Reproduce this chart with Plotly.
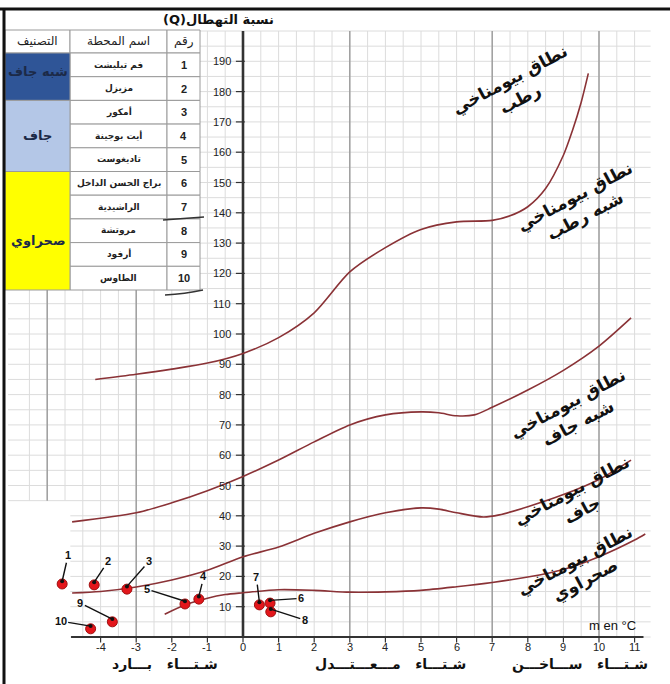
import plotly.graph_objects as go

# ---------------- data ----------------
station_no = [1, 2, 3, 4, 5, 6, 7, 8, 9, 10]
station_names = ["فم تيليشت", "مزيزل", "أمكور", "أيت بوجينة", "تاديغوست",
                 "براج الحسن الداخل", "الراشيدية", "مروتشة", "أرفود", "الطاوس"]
class_labels = ["شبه جاف", "جاف", "صحراوي"]
class_row_counts = [2, 3, 5]
table_headers = ["التصنيف", "اسم المحطة", "رقم"]

station_m = [-5.08, -4.18, -3.26, -1.24, -1.63, 0.76, 0.46, 0.78, -3.67, -4.28]
station_q = [17.5, 17.2, 15.8, 12.5, 10.9, 11.2, 10.6, 8.3, 5.0, 2.7]

x_ticks = list(range(-4, 12))
y_ticks = list(range(10, 200, 10))

# boundary humid / sub-humid
b1_x = [-4.15, -3, -2, -1, 0, 1, 2, 3, 4, 5, 6, 7, 7.5, 8, 8.5, 9, 9.25, 9.5, 9.7]
b1_y = [85, 86.7, 88.4, 90.4, 93.6, 98.8, 107, 120.5, 128.5, 134.5, 137, 137.5, 139, 142, 148, 159, 167, 176.5, 186]
# boundary sub-humid / semi-arid
b2_x = [-4.8, -3, -2, -1, 0, 1, 2, 3, 4, 5, 5.5, 6, 6.5, 7, 8, 9, 10, 10.9]
b2_y = [38, 41, 44.3, 48.3, 53, 58.4, 64.4, 70, 73.3, 74.3, 74, 73, 73.3, 75.8, 81.5, 88, 96, 105.3]
# boundary semi-arid / arid
b3_x = [-4.8, -4, -3, -2, -1, 0, 1, 2, 3, 4, 5, 5.5, 6, 6.75, 7.2, 8, 9, 10, 10.9]
b3_y = [14.5, 15, 16.5, 18.8, 22, 26.5, 29.7, 34.2, 38, 41, 42.6, 42.2, 41, 39.6, 40.3, 43, 47, 52, 58.4]
# boundary arid / saharan
b4_x = [-2.2, -1.6, -1, -0.5, 0, 1, 2, 3, 4, 5, 6, 7, 8, 9, 10, 11, 11.3]
b4_y = [7.5, 10.7, 12.8, 14, 14.6, 15.6, 15.4, 14.8, 14.9, 15.4, 16.6, 18, 19.8, 22.3, 26.5, 32, 34]

zone_labels = ["نطاق بيومناخي<br>رطب", "نطاق بيومناخي<br>شبه رطب", "نطاق بيومناخي<br>شبه جاف",
               "نطاق بيومناخي<br>جاف", "نطاق بيومناخي<br>صحراوي"]
winter_labels = ["شـتـــاء   بـــارد", "شـتـــاء   مـــعـــتـــدل", "شـتـــاء   ســـاخـــن"]
y_title = "(Q)نسبة التهطال"
x_unit = "m en °C"

# ---------------- geometry helpers ----------------
W, H = 670, 684
X0PX, XS = 243.0, 35.6
Y0PX, YS = 637.0, 3.03


def dx(px):
    return (px - X0PX) / XS


def dy(py):
    return (Y0PX - py) / YS


def pxp(px):
    return px / W


def pyp(py):
    return 1 - py / H


x_range = [dx(0), dx(W)]
y_range = [dy(H), dy(0)]

AR = "DejaVu Sans, Noto Sans, sans-serif"
NUM = "Liberation Sans, Arial, sans-serif"
CURVE = "#8a3236"

# table geometry (pixels)
c0, c1, c2, c3 = 5, 70, 167, 200
r_top, r_head, r_h = 30, 53, 23.7
t_bottom = r_head + 10 * r_h
tab_x = dx(c3)
tab_y = dy(t_bottom)

fig = go.Figure()

# ---------------- grid ----------------
gx, gy = [], []
k = -12
while k <= 22:
    xv = k / 2
    y0 = 45 if xv < -4.8 else 0
    y1 = tab_y if xv < tab_x else 200
    gx += [xv, xv, None]
    gy += [y0, y1, None]
    k += 1
for yv in range(0, 201, 5):
    x0 = -6.6 if yv >= 45 else -4.85
    if yv > tab_y:
        x0 = tab_x
    gx += [x0, 11.45, None]
    gy += [yv, yv, None]
fig.add_trace(go.Scatter(x=gx, y=gy, mode="lines", line=dict(color="#dcdcdc", width=1),
                         hoverinfo="skip", showlegend=False))
mx, my = [], []
for xv in [-5.5, -3, 3, 7, 10]:
    y0 = 45 if xv < -4.8 else 0
    y1 = tab_y if xv < tab_x else 200
    mx += [xv, xv, None]
    my += [y0, y1, None]
fig.add_trace(go.Scatter(x=mx, y=my, mode="lines", line=dict(color="#9a9a9a", width=1.4),
                         hoverinfo="skip", showlegend=False))

# ---------------- axes ----------------
fig.add_trace(go.Scatter(x=[0, 0], y=[0, 200], mode="lines", line=dict(color="#333", width=2.6),
                         hoverinfo="skip", showlegend=False))
fig.add_trace(go.Scatter(x=[-4.83, 11.25], y=[0, 0], mode="lines", line=dict(color="#333", width=2.2),
                         hoverinfo="skip", showlegend=False))
tx, ty = [], []
for v in y_ticks:
    tx += [-0.2, 0.05, None]
    ty += [v, v, None]
for v in x_ticks:
    tx += [v, v, None]
    ty += [0, -1.8, None]
fig.add_trace(go.Scatter(x=tx, y=ty, mode="lines", line=dict(color="#333", width=1.2),
                         hoverinfo="skip", showlegend=False))

# ---------------- boundary curves ----------------
for bx, by in [(b1_x, b1_y), (b2_x, b2_y), (b3_x, b3_y), (b4_x, b4_y)]:
    fig.add_trace(go.Scatter(x=bx, y=by, mode="lines",
                             line=dict(color=CURVE, width=1.6, shape="spline", smoothing=0.8),
                             hoverinfo="skip", showlegend=False))

# ---------------- stations ----------------
fig.add_trace(go.Scatter(x=station_m, y=station_q, mode="markers",
                         marker=dict(color="#e3161b", size=10, line=dict(color="#a01010", width=1)),
                         hoverinfo="skip", showlegend=False))
fig.add_trace(go.Scatter(x=station_m, y=[q + 0.9 for q in station_q], mode="markers",
                         marker=dict(color="#111", size=4),
                         hoverinfo="skip", showlegend=False))

label_off = {1: (6, -26), 2: (14, -21), 3: (22, -25), 4: (5, -20), 5: (-38, -12),
             6: (31, -2), 7: (-3, -25), 8: (34, 11), 9: (-32, -16), 10: (-30, -5)}
annotations = []
for n, m, q in zip(station_no, station_m, station_q):
    ax, ay = label_off[n]
    annotations.append(dict(x=m, y=q + 0.9, xref="x", yref="y", text="<b>%d</b>" % n,
                            showarrow=True, arrowhead=0, arrowwidth=1.4, arrowcolor="#111",
                            ax=ax, ay=ay, standoff=0, startstandoff=0,
                            font=dict(family=NUM, size=11, color="#111")))

# tick labels
for v in y_ticks:
    annotations.append(dict(x=dx(233), y=v, xref="x", yref="y", text=str(v), showarrow=False,
                            xanchor="right", yanchor="middle",
                            font=dict(family=NUM, size=11, color="#222")))
for v in x_ticks:
    annotations.append(dict(x=v, y=dy(647), xref="x", yref="y", text=str(v), showarrow=False,
                            xanchor="center", yanchor="middle",
                            font=dict(family=NUM, size=11, color="#222")))

# zone labels
zone_pos = [(515, 89), (580, 206), (573, 413), (577, 500), (580, 570)]
for txt, (px, py) in zip(zone_labels, zone_pos):
    annotations.append(dict(x=dx(px), y=dy(py), xref="x", yref="y", text="<b>%s</b>" % txt,
                            showarrow=False, textangle=-28,
                            font=dict(family=AR, size=17, color="#111")))

# winter labels
for txt, px in zip(winter_labels, [165, 390, 580]):
    annotations.append(dict(x=dx(px), y=dy(664), xref="x", yref="y", text="<b>%s</b>" % txt,
                            showarrow=False, font=dict(family=AR, size=14, color="#111")))

annotations.append(dict(x=dx(612), y=dy(625), xref="x", yref="y", text=x_unit, showarrow=False,
                        font=dict(family=NUM, size=13, color="#111")))
annotations.append(dict(x=dx(218), y=dy(19), xref="x", yref="y", text="<b>%s</b>" % y_title,
                        showarrow=False, font=dict(family=AR, size=13, color="#111")))

# ---------------- table ----------------
shapes = []
border = dict(color="#9a9a9a", width=1)


def rect(x0, y0, x1, y1, fill):
    shapes.append(dict(type="rect", xref="paper", yref="paper", x0=pxp(x0), x1=pxp(x1),
                       y0=pyp(y1), y1=pyp(y0), fillcolor=fill, line=border, layer="above"))


def cell_text(px, py, txt, font):
    annotations.append(dict(x=pxp(px), y=pyp(py), xref="paper", yref="paper", text=txt,
                            showarrow=False, xanchor="center", yanchor="middle", font=font))


# header
for (a, b), txt in zip([(c0, c1), (c1, c2), (c2, c3)], table_headers):
    rect(a, r_top, b, r_head, "white")
    cell_text((a + b) / 2, (r_top + r_head) / 2, txt, dict(family=AR, size=12, color="#222"))
# rows
for i, (n, name) in enumerate(zip(station_no, station_names)):
    y0 = r_head + i * r_h
    y1 = y0 + r_h
    rect(c1, y0, c2, y1, "white")
    rect(c2, y0, c3, y1, "white")
    cell_text((c1 + c2) / 2, (y0 + y1) / 2, "<b>%s</b>" % name, dict(family=AR, size=9, color="#222"))
    cell_text((c2 + c3) / 2, (y0 + y1) / 2, "<b>%d</b>" % n, dict(family=NUM, size=11, color="#222"))
# classification column
class_colors = ["#2f5597", "#b4c7e7", "#ffff00"]
class_dy = [-5, 0, 10]
start = 0
for lab, cnt, col, off in zip(class_labels, class_row_counts, class_colors, class_dy):
    y0 = r_head + start * r_h
    y1 = y0 + cnt * r_h
    rect(c0, y0, c1, y1, col)
    cell_text((c0 + c1) / 2, (y0 + y1) / 2 + off, "<b>%s</b>" % lab,
              dict(family=AR, size=13, color="#1c2a48"))
    start += cnt

# hand-drawn underlines
shapes.append(dict(type="line", xref="paper", yref="paper", x0=pxp(163), y0=pyp(220), x1=pxp(204), y1=pyp(217),
                   line=dict(color="#333", width=1.3), layer="above"))
shapes.append(dict(type="path", xref="paper", yref="paper",
                   path="M %f %f Q %f %f %f %f" % (pxp(165), pyp(295), pxp(185), pyp(294), pxp(203), pyp(290)),
                   line=dict(color="#333", width=1.3), layer="above"))

# frame (top and left)
shapes.append(dict(type="line", xref="paper", yref="paper", x0=0, x1=1, y0=pyp(9), y1=pyp(9),
                   line=dict(color="#111", width=3), layer="above"))
shapes.append(dict(type="line", xref="paper", yref="paper", x0=pxp(4), x1=pxp(4), y0=0, y1=pyp(9),
                   line=dict(color="#111", width=3), layer="above"))

fig.update_layout(
    width=W, height=H,
    margin=dict(l=0, r=0, t=0, b=0, pad=0),
    paper_bgcolor="white", plot_bgcolor="white",
    xaxis=dict(range=x_range, visible=False, fixedrange=True),
    yaxis=dict(range=y_range, visible=False, fixedrange=True),
    shapes=shapes, annotations=annotations, showlegend=False,
)

fig.write_html("out.html", config={"displayModeBar": False},
               post_script="document.body.style.margin='0';")
